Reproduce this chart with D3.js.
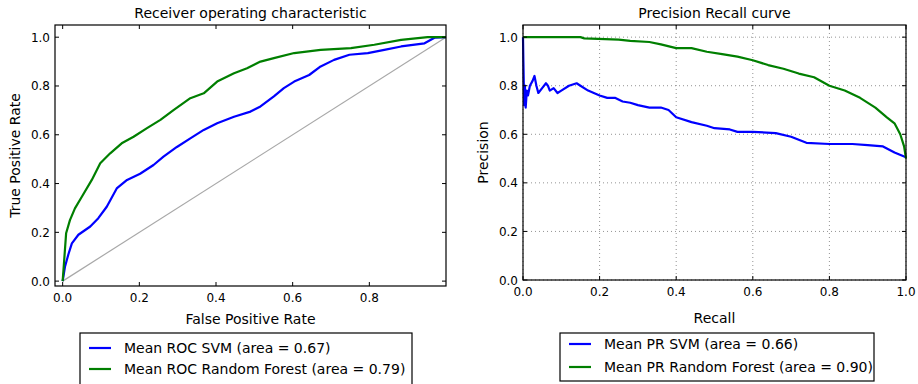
<!DOCTYPE html>
<html>
<head>
<meta charset="utf-8">
<script src="https://cdn.jsdelivr.net/npm/d3@7"></script>
<style>
  body { margin: 0; background: #fff; }
  svg { font-family: "DejaVu Sans", sans-serif; }
</style>
</head>
<body>
<svg id="chart" width="918" height="384"></svg>
<script>
// ROC curves [fpr, tpr]
const rocSvm = [[0,0],[0.006,0.059],[0.015,0.11],[0.024,0.155],[0.041,0.19],[0.072,0.224],[0.093,0.258],
  [0.115,0.305],[0.141,0.38],[0.168,0.415],[0.202,0.44],[0.237,0.476],[0.263,0.51],[0.298,0.55],[0.333,0.585],
  [0.368,0.62],[0.403,0.647],[0.447,0.674],[0.49,0.695],[0.516,0.716],[0.551,0.757],[0.577,0.791],[0.604,0.818],
  [0.643,0.845],[0.673,0.88],[0.708,0.907],[0.748,0.928],[0.796,0.935],[0.839,0.948],[0.883,0.962],[0.944,0.975],
  [0.97,0.998],[1,1]];
const rocRf = [[0,0],[0.004,0.086],[0.009,0.196],[0.019,0.25],[0.032,0.298],[0.05,0.346],[0.076,0.415],
  [0.098,0.483],[0.124,0.524],[0.154,0.565],[0.185,0.592],[0.22,0.627],[0.255,0.661],[0.29,0.702],[0.333,0.75],
  [0.368,0.77],[0.403,0.818],[0.447,0.852],[0.481,0.873],[0.516,0.9],[0.551,0.914],[0.604,0.935],[0.673,0.948],
  [0.752,0.955],[0.813,0.969],[0.883,0.989],[0.952,1],[1,1]];
const rocChance = [[0,0],[1,1]];

// PR curves [recall, precision]
const prSvm = [[0,1.0],[0.001,0.9],[0.003,0.72],[0.005,0.8],[0.007,0.71],[0.01,0.78],[0.013,0.76],[0.018,0.8],
  [0.025,0.82],[0.03,0.84],[0.035,0.8],[0.04,0.77],[0.05,0.79],[0.06,0.81],[0.065,0.8],[0.07,0.78],[0.08,0.79],
  [0.09,0.77],[0.1,0.78],[0.12,0.8],[0.14,0.81],[0.15,0.8],[0.17,0.78],[0.2,0.76],[0.22,0.75],[0.24,0.75],
  [0.26,0.735],[0.28,0.73],[0.3,0.72],[0.33,0.71],[0.36,0.71],[0.38,0.7],[0.4,0.67],[0.44,0.65],[0.48,0.635],
  [0.5,0.625],[0.54,0.62],[0.56,0.61],[0.6,0.61],[0.66,0.605],[0.7,0.59],[0.74,0.565],[0.8,0.56],[0.86,0.56],
  [0.9,0.555],[0.94,0.55],[0.97,0.525],[1.0,0.505]];
const prRf = [[0,1.0],[0.15,1.0],[0.16,0.995],[0.25,0.99],[0.28,0.985],[0.33,0.98],[0.36,0.97],[0.4,0.955],
  [0.44,0.955],[0.48,0.94],[0.52,0.93],[0.56,0.92],[0.6,0.905],[0.64,0.885],[0.68,0.87],[0.72,0.85],[0.76,0.835],
  [0.8,0.8],[0.84,0.78],[0.88,0.75],[0.92,0.71],[0.95,0.67],[0.97,0.645],[0.985,0.6],[0.995,0.55],[1.0,0.5]];

const rocLabels = ["Mean ROC SVM (area = 0.67)", "Mean ROC Random Forest (area = 0.79)"];
const prLabels = ["Mean PR SVM (area = 0.66)", "Mean PR Random Forest (area = 0.90)"];
const rocXTicks = [0, 0.2, 0.4, 0.6, 0.8];
const yTicks = [0, 0.2, 0.4, 0.6, 0.8, 1.0];
const prXTicks = [0, 0.2, 0.4, 0.6, 0.8, 1.0];

const colors = ["#0000ff", "#007f00"];
const svg = d3.select("#chart");
const fmt = d3.format(".1f");

function panel(opt) {
  const g = svg.append("g");
  const x = d3.scaleLinear().domain(opt.xDomain).range([opt.left, opt.right]);
  const y = d3.scaleLinear().domain(opt.yDomain).range([opt.bottom, opt.top]);

  if (opt.grid) {
    g.append("g").selectAll("line").data(opt.xTicks).enter().append("line")
      .attr("x1", d => x(d)).attr("x2", d => x(d)).attr("y1", opt.top).attr("y2", opt.bottom)
      .attr("stroke", "#777").attr("stroke-width", 0.8).attr("stroke-dasharray", "1,3");
    g.append("g").selectAll("line").data(opt.yTicks).enter().append("line")
      .attr("y1", d => y(d)).attr("y2", d => y(d)).attr("x1", opt.left).attr("x2", opt.right)
      .attr("stroke", "#777").attr("stroke-width", 0.8).attr("stroke-dasharray", "1,3");
  }

  const line = d3.line().x(d => x(d[0])).y(d => y(d[1]));
  if (opt.chance) {
    g.append("path").datum(opt.chance).attr("d", line)
      .attr("fill", "none").attr("stroke", "#a8a8a8").attr("stroke-width", 1.2);
  }
  opt.series.forEach((s, i) => {
    g.append("path").datum(s).attr("d", line)
      .attr("fill", "none").attr("stroke", colors[i]).attr("stroke-width", 2.2)
      .attr("stroke-linejoin", "round");
  });

  // inward ticks on all four sides
  const tl = 4;
  const tk = g.append("g").attr("stroke", "#000").attr("stroke-width", 1);
  opt.xTicks.forEach(t => {
    tk.append("line").attr("x1", x(t)).attr("x2", x(t)).attr("y1", opt.bottom).attr("y2", opt.bottom - tl);
    tk.append("line").attr("x1", x(t)).attr("x2", x(t)).attr("y1", opt.top).attr("y2", opt.top + tl);
  });
  opt.yTicks.forEach(t => {
    tk.append("line").attr("y1", y(t)).attr("y2", y(t)).attr("x1", opt.left).attr("x2", opt.left + tl);
    tk.append("line").attr("y1", y(t)).attr("y2", y(t)).attr("x1", opt.right).attr("x2", opt.right - tl);
  });

  g.append("rect").attr("x", opt.left).attr("y", opt.top)
    .attr("width", opt.right - opt.left).attr("height", opt.bottom - opt.top)
    .attr("fill", "none").attr("stroke", "#000").attr("stroke-width", 1.2);

  g.append("g").selectAll("text").data(opt.xTicks).enter().append("text")
    .attr("x", d => x(d)).attr("y", opt.bottom + 16).attr("text-anchor", "middle")
    .attr("font-size", 12).text(fmt);
  g.append("g").selectAll("text").data(opt.yTicks).enter().append("text")
    .attr("x", opt.left - 5).attr("y", d => y(d) + 4.5).attr("text-anchor", "end")
    .attr("font-size", 12).text(fmt);

  const cx = (opt.left + opt.right) / 2;
  g.append("text").attr("x", cx).attr("y", 18).attr("text-anchor", "middle")
    .attr("font-size", 14).text(opt.title);
  g.append("text").attr("x", cx).attr("y", opt.xLabelY).attr("text-anchor", "middle")
    .attr("font-size", 14).text(opt.xLabel);
  g.append("text").attr("transform", `translate(${opt.yLabelX},${(opt.top + opt.bottom) / 2}) rotate(-90)`)
    .attr("text-anchor", "middle").attr("font-size", 14).text(opt.yLabel);

  // legend
  const L = opt.legend;
  const lg = g.append("g");
  lg.append("rect").attr("x", L.x).attr("y", L.y).attr("width", L.w).attr("height", L.h)
    .attr("fill", "#fff").attr("stroke", "#000").attr("stroke-width", 1.2);
  opt.labels.forEach((lab, i) => {
    const yy = L.y + L.first + i * L.step;
    lg.append("line").attr("x1", L.x + 9).attr("x2", L.x + 31).attr("y1", yy).attr("y2", yy)
      .attr("stroke", colors[i]).attr("stroke-width", 2.2);
    lg.append("text").attr("x", L.x + 44).attr("y", yy + 5).attr("font-size", 14).text(lab);
  });
}

panel({
  left: 55, right: 446, top: 25, bottom: 286,
  xDomain: [-0.02, 1.0], yDomain: [-0.02, 1.05],
  xTicks: rocXTicks, yTicks: yTicks,
  series: [rocSvm, rocRf], chance: rocChance,
  title: "Receiver operating characteristic",
  xLabel: "False Positive Rate", yLabel: "True Positive Rate",
  xLabelY: 324, yLabelX: 20,
  labels: rocLabels,
  legend: { x: 80, y: 333, w: 332, h: 52, first: 15, step: 21 }
});

panel({
  left: 523, right: 906, top: 25, bottom: 280,
  xDomain: [0, 1], yDomain: [0, 1.05],
  xTicks: prXTicks, yTicks: yTicks,
  series: [prSvm, prRf], grid: true,
  title: "Precision Recall curve",
  xLabel: "Recall", yLabel: "Precision",
  xLabelY: 323, yLabelX: 488,
  labels: prLabels,
  legend: { x: 560, y: 333, w: 314, h: 48, first: 11, step: 23 }
});
</script>
</body>
</html>
